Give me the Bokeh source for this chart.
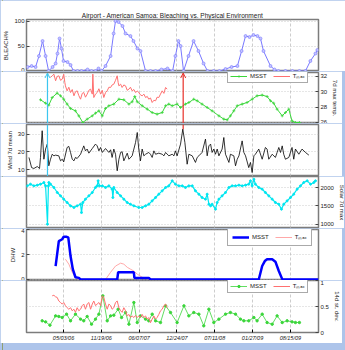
from bokeh.plotting import figure
from bokeh.layouts import column
from bokeh.models import Range1d, FixedTicker, Legend, LegendItem, Arrow, OpenHead
from bokeh.embed import file_html
from bokeh.resources import INLINE

FONT = "Liberation Sans"

# x axis: days since 05/03/06
x_start, x_end = -196, 1349
tick_days = [0, 200, 400, 600, 800, 1000, 1200]
tick_labels = ["05/03/06", "11/19/06", "06/07/07", "12/24/07", "07/11/08", "01/27/09", "08/15/09"]

# Panel 1: bleaching %
bleach_day = [-190,-169,-148,-130,-111,-95,-79,-58,-42,-32,-21,-11,0,21,37,53,74,95,127,148,
              169,185,201,222,249,265,275,291,312,328,354,370,391,407,434,460,487,518,550,577,
              592,608,619,635,661,688,714,741,762,794,825,857,889,920,942,963,984,1005,1026,1042,
              1058,1095,1116,1137,1174,1211,1248,1280,1306,1333,1343]
bleach_val = [8,10,8,30,60,30,0,8,15,35,65,45,20,18,12,0,0,0,3,0,
              0,5,0,10,30,75,100,98,90,75,70,60,45,40,0,0,0,3,5,0,
              30,60,50,0,30,60,40,15,0,0,0,4,8,10,40,70,68,72,70,65,
              40,10,3,0,0,0,0,0,20,35,42]

# Panel 2: 7d max temperature
msst_day = [-122,-95,-78,-60,-34,-16,1,19,37,63,81,102,125,152,169,187,205,222,240,266,
            293,319,346,363,377,390,416,443,469,495,522,540,557,575,601,619,645,663,689,707,
            733,760,786,822,848,866,883,901,919,945,971,998,1024,1051,1077,1095,1112,1130,1157,1174,
            1192,1209,1227,1248]
msst_val = [28.96,28.52,28.26,29.26,29.83,29.48,29.04,28.4,27.83,27.52,26.87,26.0,26.44,26.87,27.22,27.52,26.87,27.83,28.18,28.4,
            29.04,28.96,28.4,28.7,29.39,28.7,28.18,27.74,27.3,27.09,27.3,28.18,28.4,28.18,28.4,27.96,28.4,28.61,29.04,28.83,
            28.4,27.96,27.52,26.87,26.44,26.35,26.87,27.52,28.18,28.4,28.61,29.04,29.48,29.57,29.39,28.83,28.52,27.74,26.87,27.3,
            27.74,26.2,26.0,26.0]
tmax_day = [-69,-60,-51,-42,-34,-25,-16,-7,1,7,10,19,28,37,46,55,63,72,81,90,
            99,107,116,125,134,143,152,155,160,169,178,187,196,205,213,222,231,240,249,257,
            266,275,284,289,293,302,310,319,328,337,346,354,363,372,381,390,398,407,416,425,
            434,443,451,460,469,478,487,495,504,513,522,531,540,548]
tmax_val = [31.87,32.09,32.3,31.44,32.0,32.09,31.5,31.65,32.3,31.2,30.78,30.13,30.6,29.91,30.3,29.48,30.0,30.13,29.5,29.04,
            29.8,29.91,29.3,29.7,30.2,30.35,29.7,32.3,29.26,29.7,29.91,30.4,29.7,30.2,29.26,29.9,30.13,30.6,30.57,30.9,
            31.0,31.5,32.09,31.2,30.78,31.0,30.57,30.9,30.78,30.2,30.35,30.6,30.13,30.3,29.91,30.1,29.91,29.6,29.48,29.7,
            29.26,29.4,29.04,29.2,28.61,28.9,28.83,29.3,29.26,29.7,30.13,29.8,30.57,30.35]

# Panel 3: wind 7d mean
wind_day = [-183,-169,-157,-139,-127,-122,-113,-104,-95,-86,-78,-69,-60,-51,-42,-25,-16,-7,1,19,
            28,37,46,55,63,72,90,107,116,125,134,152,169,178,187,196,205,222,240,249,
            257,266,275,284,293,302,310,319,337,346,363,381,390,398,407,416,425,434,451,460,
            469,478,487,504,522,531,540,557,575,584,592,601,619,631,642,654,663,681,698,707,
            716,733,751,760,769,778,786,795,804,813,822,839,848,857,875,883,901,910,919,928,
            945,954,963,980,989,998,1007,1015,1033,1051,1068,1077,1086,1104,1121,1130,1139,1148,1157,1165,
            1174,1192,1209,1218,1227,1245,1262,1280,1298]
wind_val = [16.9,11.2,10.7,11.8,10.7,16.9,31.9,15.9,21.6,24.4,12.2,15.9,18.7,17.8,18.2,17.8,15.0,15.9,14.4,22.5,
            23.1,19.7,15.9,15.0,16.9,16.3,18.7,23.4,20.6,21.6,19.3,21.9,24.4,23.4,20.6,22.5,19.7,21.9,19.7,21.2,
            16.9,21.6,18.7,9.4,15.9,19.7,20.1,15.0,19.3,15.9,17.8,25.3,30.9,21.6,15.0,21.6,17.8,18.7,19.7,18.7,
            16.9,20.6,18.7,19.3,18.7,17.8,19.7,17.8,18.7,17.8,20.6,17.8,24.4,32.8,25.3,13.1,18.7,17.8,14.1,16.9,
            17.8,19.7,27.2,17.8,23.4,24.4,19.7,21.6,18.7,21.6,17.8,21.6,28.1,18.7,14.1,18.7,17.8,12.2,15.9,17.8,
            26.2,19.7,17.8,11.2,14.1,8.4,17.8,18.7,21.6,15.9,22.5,21.6,15.9,18.7,16.9,19.7,22.5,19.7,23.4,18.7,
            15.9,16.9,22.5,15.9,21.6,18.7,21.6,19.7,18.2]

# Panel 4: solar 7d max
solar_day = [-192,-175,-157,-139,-122,-104,-95,-85,-80,-78,-69,-51,-33,-16,1,19,37,55,72,90,
             95,102,116,134,152,169,178,183,190,205,222,240,257,261,266,284,302,319,337,354,
             372,398,416,434,451,469,487,504,522,540,557,575,592,610,628,645,663,681,698,716,
             733,751,760,769,778,786,804,813,822,839,857,875,892,910,928,945,963,980,989,998,
             1007,1015,1033,1051,1068,1086,1104,1121,1139,1153,1165,1183,1201,1218,1236,1254,1271,1289,1307,1324,
             1333]
solar_val = [2045,2091,2045,2064,2091,2136,2045,1000,2045,2136,2091,2000,1864,1773,1682,1591,1500,1455,1500,1545,
             1318,1591,1682,1773,1864,2000,2045,2182,2045,2045,2000,2045,1955,1727,2000,1864,1773,1682,1591,1545,
             1500,1455,1455,1500,1545,1636,1727,1818,1909,2000,2045,2182,2091,2045,2045,2000,2045,2045,1909,1818,
             1727,1682,1818,1545,1500,1545,1409,1591,1682,1773,1864,2000,2045,2045,2064,2045,2064,2091,2182,2045,
             2227,2091,2000,1955,1864,1773,1682,1591,1545,1409,1545,1636,1727,1818,1955,2045,2136,2182,2091,2136,
             2182]

# Panel 5: degree heating weeks
dhw_msst_day = [-42,-25,-7,1,14,25,37,49,63,81,90,284,289,372,375,451,460,1033,1051,1065,1077,1104,1121,1139,1157,1174,1349]
dhw_msst_val = [1.1,3.1,3.25,3.45,3.45,3.4,1.9,0.85,0.2,0.15,0.02,0.02,0.6,0.6,0.15,0.15,0.02,0.02,1.1,1.5,1.65,1.65,1.45,0.7,0.05,0.02,0.02]
dhw_tmax_day = [10,28,46,63,81,222,249,275,302,319,337,354,372,390,416,451,487,548]
dhw_tmax_val = [1.65,1.25,0.6,0.2,0.02,0.02,0.6,1.1,1.33,1.25,1.0,0.85,0.7,0.45,0.2,0.05,0.02,0.02]

# Panel 6: 14d standard deviation
sd_msst_day = [-113,-95,-72,-42,-25,-7,16,37,63,90,107,125,148,169,187,208,231,249,266,289,
               307,328,346,372,390,407,434,451,469,487,513,540,566,601,637,663,689,716,742,769,
               795,822,857,883,910,936,954,980,1007,1024,1051,1077,1104,1130,1157,1183,1209,1227,1248]
sd_msst_val = [0.226,0.206,0.142,0.322,0.31,0.29,0.355,0.226,0.355,0.258,0.226,0.31,0.161,0.258,0.355,0.709,0.226,0.322,0.335,0.451,
               0.29,0.387,0.161,0.58,0.193,0.322,0.258,0.226,0.355,0.226,0.193,0.516,0.387,0.193,0.516,0.322,0.387,0.355,0.129,0.451,
               0.193,0.258,0.355,0.387,0.355,0.258,0.226,0.226,0.29,0.226,0.355,0.193,0.161,0.322,0.193,0.226,0.206,0.193,0.193]
sd_tmax_day = [-60,-51,-42,-34,-25,-16,-7,1,10,19,28,37,46,55,63,72,81,90,99,107,
               116,125,134,143,152,160,169,178,187,196,205,213,222,231,240,249,257,266,275,284,
               293,302,310,319,328,337,346,354,363,372,381,390,398,407,416,425,434,443,451,460,
               469,478,487,495,504,513,522,531,540,548]
sd_tmax_val = [0.71,0.72,0.69,0.68,0.61,0.58,0.55,0.58,0.52,0.48,0.45,0.48,0.42,0.45,0.39,0.48,0.42,0.45,0.52,0.55,
               0.45,0.55,0.58,0.45,0.55,0.61,0.52,0.55,0.58,0.52,0.71,0.68,0.55,0.45,0.55,0.52,0.45,0.48,0.58,0.61,
               0.48,0.42,0.39,0.48,0.42,0.32,0.35,0.29,0.32,0.29,0.33,0.29,0.32,0.29,0.35,0.29,0.32,0.26,0.29,0.19,
               0.26,0.32,0.26,0.29,0.35,0.42,0.45,0.52,0.55,0.48]

# event arrows
arrow_day = [-85, 633]
arrow_color = ["#3cc6f0", "#e8302a"]
wind_event_val = [6.2, 32.8]

BLUE_B = "#7878ff"
GREEN = "#3ad63a"
RED = "#ff7070"
PINK = "#ffa8a8"
CYAN = "#00e6f0"
GRID = "#b8b8b8"

LB, RB, FW = 23, 27, 292


def panel(yr, yticks, frame_h, top=0, bottom=0, side="left", ylabel=None, title=None):
    kw = {}
    if title:
        kw["title"] = title
    p = figure(frame_width=FW, frame_height=frame_h, x_range=Range1d(x_start, x_end),
               y_range=Range1d(*yr), y_axis_location=side, output_backend="svg",
               toolbar_location=None, min_border_left=LB, min_border_right=RB,
               min_border_top=top, min_border_bottom=bottom, **kw)
    p.outline_line_color = "#7c7c7c"
    p.outline_line_width = 1.5
    p.background_fill_color = "white"
    p.border_fill_color = "white"
    p.xaxis.ticker = FixedTicker(ticks=tick_days)
    p.xgrid.ticker = FixedTicker(ticks=tick_days)
    p.xgrid.grid_line_color = GRID
    p.xgrid.grid_line_dash = "3 2"
    p.xgrid.grid_line_width = 0.7
    p.ygrid.ticker = FixedTicker(ticks=yticks)
    p.ygrid.grid_line_color = GRID
    p.ygrid.grid_line_dash = "1 2"
    p.ygrid.grid_line_width = 0.7
    ax = p.yaxis[0]
    ax.ticker = FixedTicker(ticks=yticks)
    ax.major_tick_in = 3
    ax.major_tick_out = 0
    ax.minor_tick_line_color = None
    ax.axis_line_color = None
    ax.major_tick_line_color = "#444444"
    ax.major_label_text_font = FONT
    ax.major_label_text_font_size = "6px"
    ax.major_label_text_color = "#222222"
    ax.major_label_standoff = 2
    if ylabel:
        ax.axis_label = ylabel
        ax.axis_label_text_font = FONT
        ax.axis_label_text_font_size = "6px"
        ax.axis_label_text_font_style = "normal"
        ax.axis_label_text_color = "#222222"
        ax.axis_label_standoff = 2
    p.xaxis.visible = False
    return p


def legend(p, items, loc, pad=2):
    lg = Legend(items=items, location=loc, orientation="horizontal",
                label_text_font=FONT, label_text_font_size="6px", label_text_color="#222222",
                glyph_width=17, glyph_height=6, label_height=6, label_width=8,
                label_standoff=3, spacing=6, padding=pad, margin=0,
                border_line_color="#555555", border_line_width=0.8,
                background_fill_color="white", background_fill_alpha=1)
    p.add_layout(lg)


# Panel 1
p1 = panel((-1, 103), [0, 50, 100], 52, top=19, ylabel="BLEACH%",
           title="Airport - American Samoa: Bleaching vs. Physical Environment")
p1.title.text_font = FONT
p1.title.text_font_size = "6.5px"
p1.title.text_font_style = "normal"
p1.title.text_color = "#222222"
p1.title.align = "center"
p1.title.standoff = 2
p1.line(bleach_day, bleach_val, color=BLUE_B, line_width=1)
p1.scatter(bleach_day, bleach_val, marker="circle", size=3.0, line_color=BLUE_B,
           fill_color="#c4c4ff", line_width=0.6)

# Panel 2
p2 = panel((25.87, 32.52), [26, 28, 30, 32], 51, top=1, side="right", ylabel="7d max temp.")
r_ms = p2.line(msst_day, msst_val, color=GREEN, line_width=1)
r_msm = p2.scatter(msst_day, msst_val, marker="cross", size=3, color=GREEN, line_width=0.8)
r_tm = p2.line(tmax_day, tmax_val, color=RED, line_width=1)
for d, c in zip(arrow_day, arrow_color):
    p2.add_layout(Arrow(end=OpenHead(size=5, line_color=c, line_width=1),
                        x_start=d, y_start=25.87, x_end=d, y_end=32.45,
                        line_color=c, line_width=1.2))
legend(p2, [LegendItem(label="MSST", renderers=[r_ms, r_msm]),
            LegendItem(label="Tₘₐₓ", renderers=[r_tm])], (201, 40))

# Panel 3
p3 = panel((6.2, 35.4), [10, 20, 30], 52, top=1, ylabel="Wind 7d mean")
p3.line(wind_day, wind_val, color="black", line_width=0.8)
p3.segment(x0=arrow_day, y0=wind_event_val, x1=arrow_day, y1=[35.4, 35.4],
           color=arrow_color, line_width=1.2)

# Panel 4
p4 = panel((883, 2300), [1000, 1500, 2000], 52, top=0, side="right", ylabel="Solar 7d max")
p4.line(solar_day, solar_val, color=CYAN, line_width=1.2)
p4.scatter(solar_day, solar_val, marker="circle", size=2, color=CYAN)

# Panel 5
p5 = panel((-0.06, 4.03), [0, 2, 4], 51, top=1, ylabel="DHW")
r_dt = p5.line(dhw_tmax_day, dhw_tmax_val, color=PINK, line_width=1)
r_dm = p5.line(dhw_msst_day, dhw_msst_val, color="#0000ff", line_width=2.5)
legend(p5, [LegendItem(label="MSST", renderers=[r_dm]),
            LegendItem(label="Tₘₐₓ", renderers=[r_dt])], (201, 34), pad=4)

# Panel 6
p6 = panel((0, 1.006), [0, 0.5, 1], 52, top=0, bottom=10, side="right", ylabel="14d st. dev.")
r_sm = p6.line(sd_msst_day, sd_msst_val, color=GREEN, line_width=0.8)
r_smm = p6.scatter(sd_msst_day, sd_msst_val, marker="circle", size=2.4, color=GREEN)
r_st = p6.line(sd_tmax_day, sd_tmax_val, color=RED, line_width=1)
legend(p6, [LegendItem(label="MSST", renderers=[r_sm, r_smm]),
            LegendItem(label="Tₘₐₓ", renderers=[r_st])], (201, 39))
xa = p6.xaxis[0]
xa.visible = True
xa.ticker = FixedTicker(ticks=tick_days)
xa.major_label_overrides = dict(zip(tick_days, tick_labels))
xa.major_tick_in = 3
xa.major_tick_out = 0
xa.minor_tick_line_color = None
xa.axis_line_color = None
xa.major_label_text_font = FONT
xa.major_label_text_font_size = "5.5px"
xa.major_label_text_font_style = "italic"
xa.major_label_text_color = "#222222"
xa.major_label_standoff = 2

layout = column(p1, p2, p3, p4, p5, p6, spacing=0)

html = file_html(layout, INLINE)
style = ("<style>html,body{overflow:hidden;}"
         "body{background:linear-gradient(to right,#adc4ea 0px,#adc4ea 2px,#8f9f72 2px,"
         "#8f9f72 3px,#adc4ea 3px);}</style></head>")
html = html.replace("</head>", style, 1)
open("out.html", "w").write(html)
